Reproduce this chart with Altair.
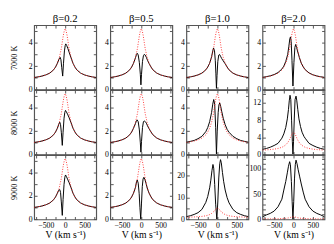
import altair as alt
import pandas as pd

SERIF = "Liberation Serif"
BETAS = ["β=0.2", "β=0.5", "β=1.0", "β=2.0"]
TEMPS = ["7000 K", "8000 K", "9000 K"]
X_TITLE = "V (km s⁻¹)"
V_TICKS = [-750, -500, -250, 0, 250, 500, 750]

# red dotted reference profile
RED_V = [-800, -700, -600, -500, -400, -300, -250, -200, -150, -100, -75, -50, -25, 0,
         25, 50, 75, 100, 150, 200, 250, 300, 400, 500, 600, 700, 800]
RED_Y = [1.03, 1.08, 1.15, 1.25, 1.4, 1.68, 1.92, 2.25, 2.75, 3.5, 4.05, 4.6, 5.0, 5.2,
         5.0, 4.6, 4.05, 3.5, 2.75, 2.25, 1.92, 1.68, 1.4, 1.25, 1.15, 1.08, 1.03]

# 7000 K
V_7000_02 = [-800, -700, -600, -500, -400, -300, -250, -200, -160, -130, -110, -90, -65, -45, -20,
             0, 15, 40, 70, 100, 150, 200, 250, 300, 400, 500, 600, 700, 800]
Y_7000_02 = [1.03, 1.08, 1.15, 1.25, 1.4, 1.68, 1.92, 2.25, 2.6, 2.75, 2.55, 1.9, 1.15, 2.2, 3.3,
             3.75, 3.9, 3.75, 3.5, 3.2, 2.72, 2.25, 1.92, 1.68, 1.4, 1.25, 1.15, 1.08, 1.03]
V_7000_05 = [-800, -700, -600, -500, -400, -300, -250, -200, -150, -125, -105, -80, -50, -25, -10,
             5, 30, 55, 75, 100, 130, 160, 200, 250, 300, 400, 500, 600, 700, 800]
Y_7000_05 = [1.03, 1.08, 1.15, 1.25, 1.4, 1.68, 1.92, 2.25, 2.72, 3.0, 3.1, 2.95, 2.3, 1.3, 0.4,
             1.3, 2.4, 2.9, 3.0, 2.95, 2.75, 2.5, 2.22, 1.92, 1.68, 1.4, 1.25, 1.15, 1.08, 1.03]
V_7000_10 = [-800, -700, -600, -500, -400, -300, -250, -200, -150, -120, -100, -75, -55, -40, -25,
             -10, 10, 35, 55, 80, 110, 150, 200, 250, 300, 400, 500, 600, 700, 800]
Y_7000_10 = [1.03, 1.08, 1.15, 1.25, 1.4, 1.68, 1.92, 2.25, 2.8, 3.3, 3.55, 3.3, 2.5, 1.4, 0.1,
             1.2, 2.4, 2.95, 3.0, 2.85, 2.65, 2.45, 2.2, 1.92, 1.68, 1.4, 1.25, 1.15, 1.08, 1.03]
V_7000_20 = [-800, -700, -600, -500, -400, -300, -250, -200, -150, -120, -95, -78, -60, -40, -15,
             10, 35, 55, 80, 110, 150, 200, 250, 300, 400, 500, 600, 700, 800]
Y_7000_20 = [1.04, 1.1, 1.17, 1.28, 1.45, 1.75, 2.0, 2.4, 3.0, 3.7, 4.35, 4.5, 4.1, 2.5, 0.3,
             2.3, 3.6, 3.85, 3.6, 3.2, 2.75, 2.25, 1.95, 1.7, 1.42, 1.26, 1.16, 1.09, 1.04]

# 8000 K
V_8000_02 = [-800, -700, -600, -500, -400, -300, -250, -200, -165, -140, -120, -100, -75, -55, -30,
             -10, 8, 30, 60, 100, 150, 200, 250, 300, 400, 500, 600, 700, 800]
Y_8000_02 = [1.03, 1.08, 1.15, 1.25, 1.4, 1.68, 1.92, 2.25, 2.6, 2.76, 2.55, 1.9, 0.78, 1.9, 3.1,
             3.6, 3.77, 3.65, 3.45, 3.15, 2.72, 2.25, 1.92, 1.68, 1.4, 1.25, 1.15, 1.08, 1.03]
V_8000_05 = [-800, -700, -600, -500, -400, -300, -250, -200, -150, -125, -105, -80, -50, -25, -10,
             5, 30, 55, 75, 100, 130, 160, 200, 250, 300, 400, 500, 600, 700, 800]
Y_8000_05 = [1.03, 1.08, 1.15, 1.25, 1.4, 1.68, 1.92, 2.25, 2.65, 2.9, 2.95, 2.8, 2.1, 1.0, 0.2,
             1.1, 2.3, 2.8, 2.87, 2.82, 2.68, 2.45, 2.2, 1.92, 1.68, 1.4, 1.25, 1.15, 1.08, 1.03]
V_8000_10 = [-800, -700, -600, -500, -400, -300, -250, -200, -150, -120, -95, -70, -45, -25, -5,
             20, 40, 60, 85, 110, 150, 200, 250, 300, 400, 500, 600, 700, 800]
Y_8000_10 = [1.05, 1.12, 1.2, 1.35, 1.55, 1.95, 2.3, 2.8, 3.6, 4.3, 4.7, 4.3, 2.3, 0.05, 2.0,
             3.6, 4.25, 4.4, 4.1, 3.7, 3.1, 2.55, 2.15, 1.9, 1.55, 1.35, 1.2, 1.12, 1.05]
V_8000_20 = [-800, -700, -600, -500, -400, -300, -250, -200, -160, -130, -110, -90, -70, -50, -30, -15,
             0, 20, 40, 65, 85, 110, 140, 180, 220, 270, 300, 400, 500, 600, 700, 800]
Y_8000_20 = [1.2, 1.4, 1.7, 2.1, 2.6, 3.8, 4.8, 6.3, 8.3, 10.5, 12.5, 13.8, 12.8, 8.0, 3.0, 0.1,
             3.0, 8.5, 12.8, 13.6, 12.5, 10.5, 8.3, 6.5, 5.2, 4.2, 3.8, 2.6, 2.1, 1.7, 1.4, 1.2]

# 9000 K
V_9000_02 = [-800, -700, -600, -500, -400, -300, -250, -200, -165, -140, -120, -100, -75, -55, -30,
             -10, 8, 30, 60, 100, 150, 200, 250, 300, 400, 500, 600, 700, 800]
Y_9000_02 = [1.03, 1.08, 1.15, 1.25, 1.4, 1.68, 1.92, 2.25, 2.5, 2.55, 2.3, 1.5, 0.35, 1.7, 3.0,
             3.6, 3.8, 3.68, 3.45, 3.15, 2.72, 2.25, 1.92, 1.68, 1.4, 1.25, 1.15, 1.08, 1.03]
V_9000_05 = [-800, -700, -600, -500, -400, -300, -250, -200, -150, -125, -105, -80, -55, -35, -15,
             5, 25, 45, 65, 90, 120, 160, 200, 250, 300, 400, 500, 600, 700, 800]
Y_9000_05 = [1.03, 1.08, 1.15, 1.25, 1.4, 1.68, 1.92, 2.25, 2.75, 3.2, 3.37, 3.1, 2.2, 1.0, 0.05,
             1.4, 2.8, 3.45, 3.6, 3.45, 3.1, 2.6, 2.25, 1.92, 1.68, 1.4, 1.25, 1.15, 1.08, 1.03]
V_9000_10 = [-800, -700, -600, -500, -400, -300, -250, -200, -170, -140, -115, -95, -70, -45, -15,
             10, 35, 60, 80, 100, 130, 160, 200, 250, 300, 400, 500, 600, 700, 800]
Y_9000_10 = [1.3, 1.7, 2.3, 3.1, 4.6, 7.8, 10.5, 14.5, 18.0, 22.5, 25.2, 23.5, 16.0, 7.0, 0.2,
             8.0, 19.0, 25.5, 27.4, 26.0, 21.5, 17.5, 13.5, 10.0, 7.6, 4.6, 3.1, 2.3, 1.7, 1.3]
V_9000_20 = [-800, -700, -600, -500, -400, -300, -250, -200, -160, -130, -100, -80, -55, -35, -15,
             5, 25, 45, 65, 90, 120, 160, 200, 250, 300, 400, 500, 600, 700, 800]
Y_9000_20 = [5.2, 9.0, 12.0, 16.5, 25.0, 40.0, 58.0, 75.0, 92.0, 105.0, 114.0, 108.0, 75.0, 35.0, 0.5,
             35.0, 80.0, 108.0, 117.0, 110.0, 98.0, 84.0, 70.0, 54.0, 40.0, 25.0, 16.5, 12.0, 9.0, 5.2]

BLACK = [
    [(V_7000_02, Y_7000_02), (V_7000_05, Y_7000_05), (V_7000_10, Y_7000_10), (V_7000_20, Y_7000_20)],
    [(V_8000_02, Y_8000_02), (V_8000_05, Y_8000_05), (V_8000_10, Y_8000_10), (V_8000_20, Y_8000_20)],
    [(V_9000_02, Y_9000_02), (V_9000_05, Y_9000_05), (V_9000_10, Y_9000_10), (V_9000_20, Y_9000_20)],
]

Y_MAX = [[5.5, 5.5, 5.5, 5.5], [5.5, 5.5, 5.5, 15], [5.5, 5.5, 29.5, 127]]
TICKS_SMALL = [0, 1, 2, 3, 4, 5]
TICKS_15 = [0, 2, 4, 6, 8, 10, 12, 14]
TICKS_30 = [0, 5, 10, 15, 20, 25]
TICKS_127 = [0, 10, 20, 30, 40, 50, 60, 70, 80, 90, 100, 110, 120]
Y_TICKS = [[TICKS_SMALL] * 4, [TICKS_SMALL] * 3 + [TICKS_15], [TICKS_SMALL] * 2 + [TICKS_30, TICKS_127]]
Y_LABEL_STEP = [[2, 2, 2, 2], [2, 2, 2, 4], [2, 2, 10, 50]]

W = 64
H = 66.4
FRAME = "#555555"
INWARD = {"expr": "-3"}


def axis(orient, values, labels, step=None, title=None, title_pad=0):
    kw = dict(orient=orient, values=values, grid=False, domain=False, ticks=True,
              tickSize=INWARD, tickColor=FRAME, tickWidth=1, labels=labels, title=title)
    if labels:
        kw.update(labelFont=SERIF, labelFontSize=8, labelColor="black", labelPadding=5,
                  labelFlush=False, labelOverlap=False,
                  labelExpr=f"datum.value % {step} == 0 ? datum.label : ''")
    if title:
        kw.update(titleFont=SERIF, titleFontSize=10 if orient == "bottom" else 8.5,
                  titleFontWeight="normal", titleColor="black", titlePadding=title_pad)
    return alt.Axis(**kw)


def panel(r, c):
    bv, by = BLACK[r][c]
    black = pd.DataFrame({"v": bv, "y": by})
    red = pd.DataFrame({"v": RED_V, "y": RED_Y})
    xs = alt.Scale(domain=[-800, 800], nice=False, zero=False)
    ys = alt.Scale(domain=[0, Y_MAX[r][c]], nice=False)
    bottom = r == 2
    left = c == 0
    xb = axis("bottom", V_TICKS, bottom, 500, X_TITLE if bottom else None, 1)
    xt = axis("top", V_TICKS, False)
    yl = axis("left", Y_TICKS[r][c], True, Y_LABEL_STEP[r][c], TEMPS[r] if left else None, 10)
    yr = axis("right", Y_TICKS[r][c], False)
    b = alt.Chart(black).mark_line(color="black", strokeWidth=1.0, clip=True).encode(
        x=alt.X("v:Q", scale=xs, axis=xb),
        y=alt.Y("y:Q", scale=ys, axis=yl),
    )
    rd = alt.Chart(red).mark_line(color="#ff2020", strokeWidth=0.9, strokeDash=[1, 1.6], clip=True).encode(
        x=alt.X("v:Q", scale=xs, axis=xt),
        y=alt.Y("y:Q", scale=ys, axis=yr),
    )
    ch = alt.layer(b, rd).resolve_axis(x="independent", y="independent").properties(width=W, height=H)
    if r == 0:
        ch = ch.properties(title=alt.Title(BETAS[c], font=SERIF, fontSize=11, fontWeight="normal",
                                           color="black", offset=1))
    return ch


panels = [panel(r, c) for r in range(3) for c in range(4)]

chart = alt.concat(*panels, columns=4, spacing={"row": 0, "column": 14.5}, bounds="flush").properties(
    padding={"left": 1, "top": 0, "right": 0, "bottom": 0}
).configure_view(stroke=FRAME, strokeWidth=1.2)

chart.save("out.html", embed_options={"renderer": "svg", "actions": False})
